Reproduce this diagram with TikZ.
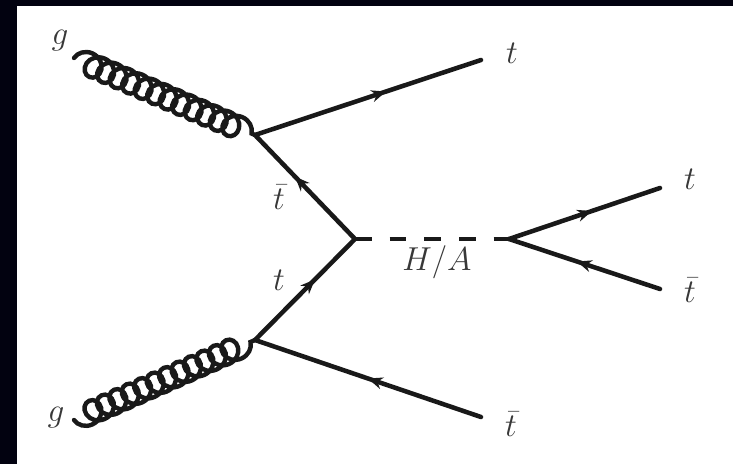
\documentclass[tikz,border=0pt]{standalone}
\usepackage{fontspec}
\usetikzlibrary{decorations.pathmorphing,decorations.markings,arrows.meta}
\definecolor{labelgrey}{gray}{0.22}
\definecolor{linegrey}{gray}{0.1}
\definecolor{frameblue}{RGB}{2,2,16}
\tikzset{
  x=0.75pt,y=-0.75pt,
  lbl/.style={text=labelgrey,inner sep=0pt,font=\fontsize{23}{27}\selectfont},
  line/.style={draw=linegrey,line width=3.4pt,line cap=round},
  fermion/.style={line,postaction={decorate},decoration={markings,mark=at position #1 with {\arrow[linegrey]{Stealth[length=11pt,width=9pt]}}}},
  fermion/.default=0.55,
  gluon/.style={draw=linegrey,line width=3.3pt,line cap=round,decorate,decoration={coil,aspect=1.0,amplitude=8.6pt,segment length=10.2pt}},
  gluonm/.style={gluon,decoration={mirror}},
  scalar/.style={draw=linegrey,line width=3.4pt,dash pattern=on 12.5pt off 13.5pt}
}
\begin{document}
\begin{tikzpicture}
\useasboundingbox (0,0) rectangle (733,464);
\fill[frameblue] (0,0) rectangle (733,464);
\fill[white] (17,6) rectangle (733,464);
\coordinate (g1) at (74,58);
\coordinate (g2) at (74,420);
\coordinate (v1) at (255,135);
\coordinate (v2) at (255,340);
\coordinate (vc) at (355,239);
\coordinate (vd) at (509,239);
\coordinate (t1) at (481,60);
\coordinate (t2) at (481,417);
\coordinate (t3) at (660,188);
\coordinate (t4) at (660,289);
\draw[gluon] (g1) -- (v1);
\draw[gluonm] (g2) -- (v2);
\draw[fermion=0.58] (v1) -- (t1);
\draw[fermion=0.5] (t2) -- (v2);
\draw[fermion=0.6] (vc) -- (v1);
\draw[fermion=0.6] (v2) -- (vc);
\draw[scalar] (vc) -- (vd);
\draw[fermion=0.55] (vd) -- (t3);
\draw[fermion=0.55] (t4) -- (vd);
\node[lbl] (lg1) at (60,41) {$g$};
\node[lbl] (lg2) at (56,418) {$g$};
\node[lbl] (lt1) at (512,53) {$t$};
\node[lbl] (lt2) at (279,197) {$\bar t$};
\node[lbl] (lt3) at (279,280) {$t$};
\node[lbl] (lt4) at (511,424) {$\bar t$};
\node[lbl] (lt5) at (690,179) {$t$};
\node[lbl] (lt6) at (690,290) {$\bar t$};
\node[lbl] (lha) at (437,262) {$H/A$};
\end{tikzpicture}
\end{document}
